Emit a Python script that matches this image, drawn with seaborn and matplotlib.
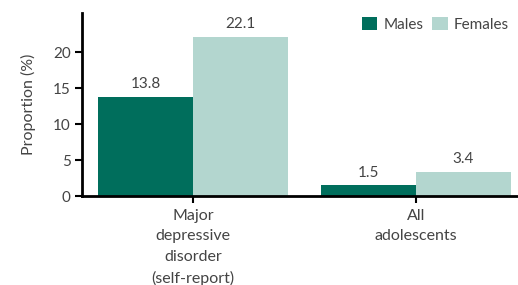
import matplotlib
matplotlib.use('Agg')
import matplotlib.pyplot as plt
import seaborn as sns
import pandas as pd

categories = ['Major\ndepressive\ndisorder\n(self-report)', 'All\nadolescents']
sexes = ['Males', 'Females']
males = [13.8, 1.5]
females = [22.1, 3.4]

df = pd.DataFrame({
    'category': categories * 2,
    'sex': ['Males'] * 2 + ['Females'] * 2,
    'value': males + females,
})

sns.set_theme(style='white')
plt.rcParams['font.family'] = ['Lato', 'DejaVu Sans']
txt = '#444444'

fig = plt.figure(figsize=(5.18, 2.85), dpi=100)
ax = fig.add_axes([0.158, 0.312, 0.842, 0.642])
sns.barplot(data=df, x='category', y='value', hue='sex', hue_order=sexes,
            palette=['#006e5c', '#b3d6cf'], width=0.85, saturation=1,
            ax=ax, errorbar=None, linewidth=0)

for c in ax.containers:
    ax.bar_label(c, fmt='%.1f', padding=4, fontsize=11, color=txt)

ax.set_xlim(-0.498, 1.457)
ax.set_ylim(0, 25.4)
ax.set_yticks([0, 5, 10, 15, 20])
ax.set_xlabel('')
ax.set_ylabel('Proportion (%)', fontsize=11.5, color=txt, labelpad=12)
ax.tick_params(axis='both', which='both', direction='out', length=5, width=1.5,
               color='black', labelsize=11, labelcolor=txt, bottom=True, left=True, pad=3)
ax.tick_params(axis='x', labelsize=11.5, pad=4)
for lab in ax.get_xticklabels():
    lab.set_linespacing(1.6)
for s in ['top', 'right']:
    ax.spines[s].set_visible(False)
for s in ['left', 'bottom']:
    ax.spines[s].set_linewidth(2)
    ax.spines[s].set_color('black')

leg = ax.legend(loc='upper right', bbox_to_anchor=(1.0, 1.03), ncol=2, frameon=False,
                fontsize=11, handlelength=1.0, handleheight=1.0, handletextpad=0.4,
                columnspacing=0.6, borderaxespad=0.2)
for t in leg.get_texts():
    t.set_color(txt)

fig.savefig('out.png', dpi=100)
